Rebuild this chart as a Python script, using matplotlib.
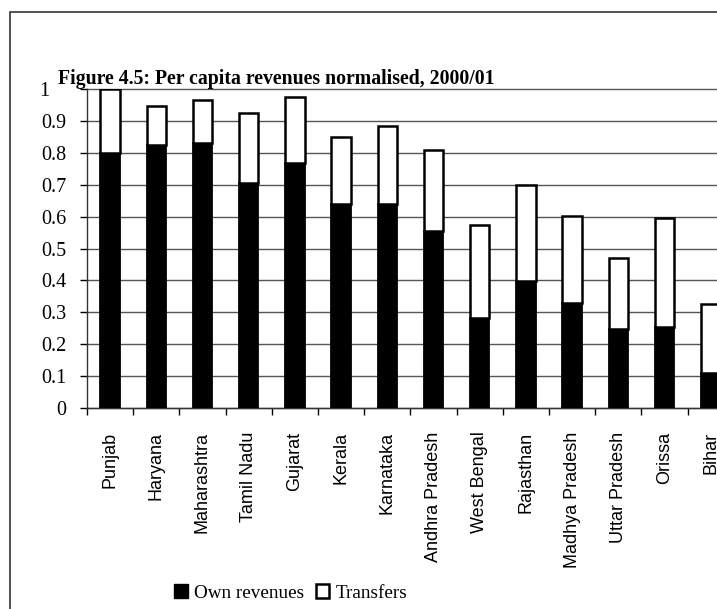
import numpy as np
import matplotlib.pyplot as plt
from matplotlib.patches import Rectangle, Patch

# per capita revenues, normalised to Punjab = 1
states = ['Punjab', 'Haryana', 'Maharashtra', 'Tamil Nadu', 'Gujarat', 'Kerala',
          'Karnataka', 'Andhra Pradesh', 'West Bengal', 'Rajasthan',
          'Madhya Pradesh', 'Uttar Pradesh', 'Orissa', 'Bihar']
own_revenues = [0.80, 0.824, 0.832, 0.706, 0.769, 0.640, 0.638, 0.554,
                0.281, 0.398, 0.330, 0.247, 0.253, 0.109]
total_revenues = [1.00, 0.947, 0.964, 0.924, 0.975, 0.850, 0.885, 0.809,
                  0.574, 0.699, 0.602, 0.469, 0.597, 0.326]
transfers = [t - o for t, o in zip(total_revenues, own_revenues)]
yticks = [0, 0.1, 0.2, 0.3, 0.4, 0.5, 0.6, 0.7, 0.8, 0.9, 1]
ytick_labels = ['0', '0.1', '0.2', '0.3', '0.4', '0.5', '0.6', '0.7', '0.8',
                '0.9', '1']

serif = 'Liberation Serif'
sans = 'Liberation Sans'

W, H = 717, 609
fig = plt.figure(figsize=(W / 100, H / 100), dpi=100)
fig.patch.set_facecolor('white')

# outer frame (runs off the right and bottom edges)
fig.patches.append(Rectangle((10 / W, -0.1), 1.2, 1 - 12 / H + 0.1,
                             transform=fig.transFigure, fill=False,
                             edgecolor='#333333', lw=1.2))

# plot area extends past the right edge of the figure
slot = 46.2
ax = fig.add_axes([87 / W, (H - 408) / H, 14 * slot / W, 319 / H])
x = np.arange(len(states))
bw = 0.42
ax.bar(x, own_revenues, bw, color='black', edgecolor='black', lw=1.3,
       zorder=3, label='Own revenues')
ax.bar(x, transfers, bw, bottom=own_revenues, color='white',
       edgecolor='black', lw=1.8, zorder=3, label='Transfers')

ax.set_xlim(-0.5, len(states) - 0.5)
ax.set_ylim(0, 1)
ax.set_yticks(yticks)
ax.set_yticklabels(ytick_labels, family=serif, fontsize=14.5)
ax.grid(axis='y', color='#555555', lw=1.0, zorder=0)
for gl in ax.get_ygridlines():
    gl.set_clip_on(False)

ax.set_xticks(x)
ax.set_xticklabels(states, rotation=90, family=sans, fontsize=13)
ax.set_xticks(np.arange(-0.5, len(states), 1), minor=True)
ax.tick_params(axis='x', which='major', length=0, pad=17)
ax.tick_params(axis='x', which='minor', length=5, width=1, direction='out')
ax.tick_params(axis='y', length=5, width=1, pad=10)

# the "1" sits further left, clear of the title
ax.yaxis.get_major_ticks()[-1].set_pad(22)

for side in ['top', 'right']:
    ax.spines[side].set_visible(False)
for side in ['left', 'bottom']:
    ax.spines[side].set_linewidth(1.0)
    ax.spines[side].set_color('#333333')

fig.text(58 / W, 1 - 84 / H, 'Figure 4.5: Per capita revenues normalised, 2000/01',
         family=serif, fontweight='bold', fontsize=14.2, va='baseline',
         ha='left')

handles = [Patch(facecolor='black', edgecolor='black', lw=1),
           Patch(facecolor='white', edgecolor='black', lw=1.8)]
fig.legend(handles, ['Own revenues', 'Transfers'], loc='center',
           bbox_to_anchor=(291 / W, 1 - 593 / H), ncol=2, frameon=False,
           handlelength=0.7, handleheight=0.7, handletextpad=0.35,
           columnspacing=0.6, prop={'family': serif, 'size': 13.8})

fig.savefig('out.png', dpi=100, facecolor='white')
